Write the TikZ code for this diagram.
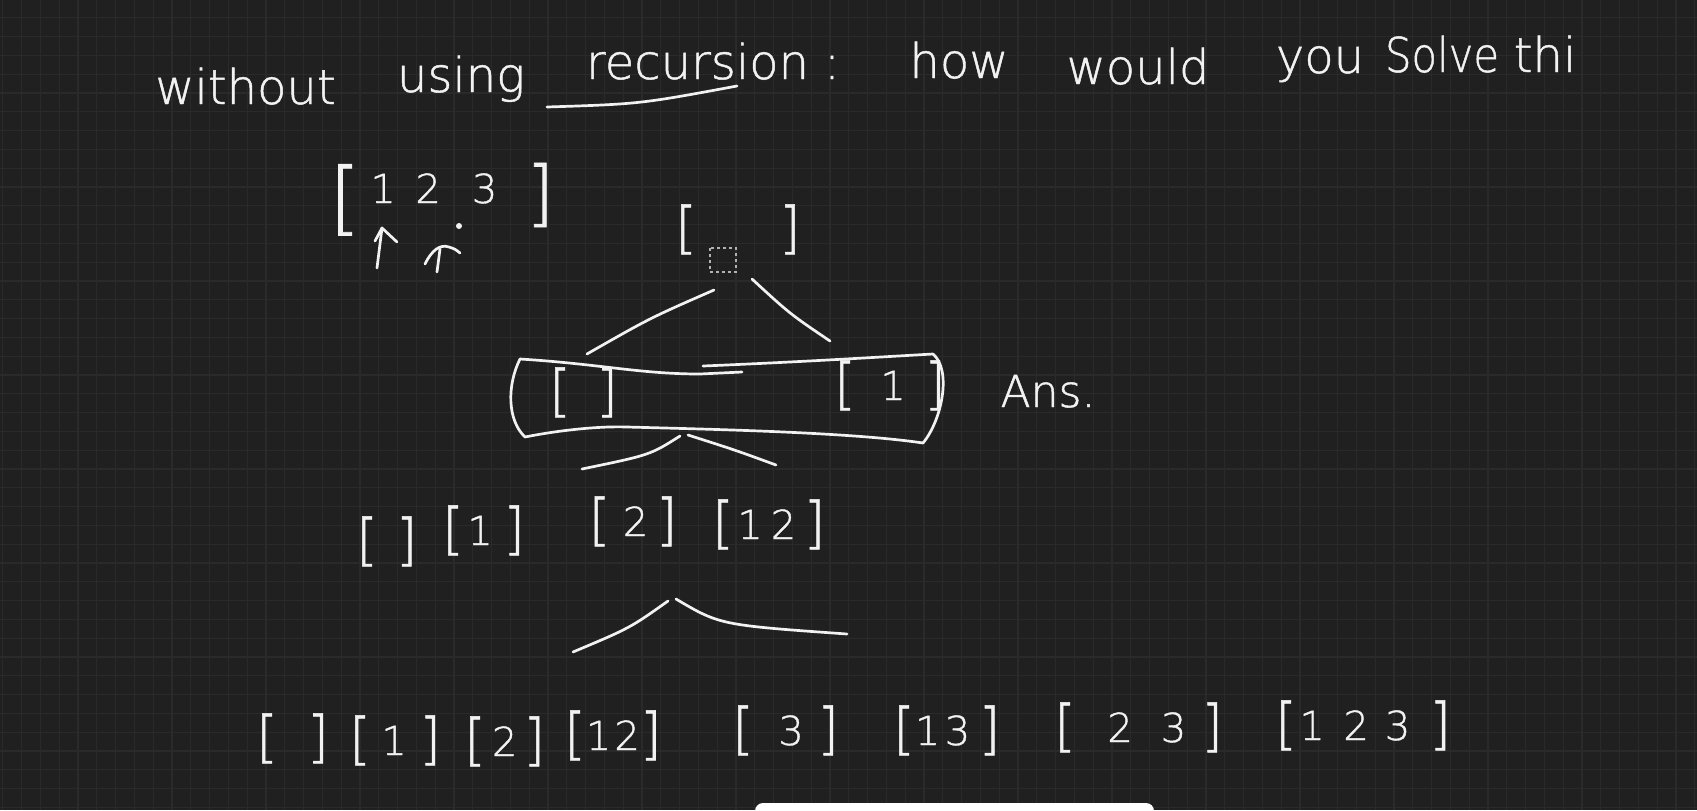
\documentclass[tikz,border=0pt]{standalone}
\usepackage{fontspec}
\usepackage{graphicx}
\IfFontExistsTF{DejaVu Sans ExtraLight}{\newfontfamily\hand[FakeBold=1]{DejaVu Sans ExtraLight}}{\IfFontExistsTF{Lato Light}{\newfontfamily\hand{Lato Light}}{\newfontfamily\hand{DejaVu Sans}}}
\definecolor{bg}{HTML}{202020}
\definecolor{gridc}{HTML}{2A2A2A}
\definecolor{ink}{HTML}{F2F2F2}
\newcommand\Lb{\raisebox{-.075em}{\scalebox{1.4}{[}}}
\newcommand\Rb{\raisebox{-.075em}{\scalebox{1.4}{]}}}
\newcommand\LB{\raisebox{-.55em}{\scalebox{2}{[}}}
\newcommand\RB{\raisebox{-.365em}{\scalebox{1.8}{]}}}
\newcommand\hs[1]{\hspace{#1pt}}
\tikzset{
  pen/.style={draw=ink, line width=1.35pt, line cap=round, line join=round},
  hw/.style={text=ink, inner sep=0pt, outer sep=0pt},
  title/.style={hw, font=\hand\fontsize{24pt}{28pt}\selectfont, anchor=base},
  grp/.style={hw, font=\hand\fontsize{20pt}{24pt}\selectfont, anchor=base west},
  gridline/.style={draw=gridc, line width=0.6pt},
}
\begin{document}
\begin{tikzpicture}[x=0.5pt, y=-0.5pt]
\useasboundingbox (0,0) rectangle (1697,810);
\fill[bg] (0,0) rectangle (1697,810);
% grid
\foreach \i in {0,...,90} \draw[gridline] ({2.7+18.8*\i},0) -- ({2.7+18.8*\i},810);
\foreach \j in {0,...,42} \draw[gridline] (0,{17.7+18.8*\j}) -- (1697,{17.7+18.8*\j});

% title
\node[title] (w1) at (245.5,104) {without};
\node[title] (w2) at (461,92) {using};
\node[title] (w3) at (697.5,79) {recursion};
\node[title] (w4) at (832,79) {:};
\node[title] (w5) at (959,78) {how};
\node[title] (w6) at (1138,84) {would};
\node[title] (w7) at (1320,73) {you};
\node[title] (w8) at (1442,72) {\scalebox{0.87}[1]{Solve}};
\node[title] (w9) at (1545,72) {thi};
\coordinate (ul1) at (547,107);
\coordinate (ul2) at (737,86);
\draw[pen] (ul1) .. controls (640,104) .. (ul2);

% input array and pointers
\node[grp] (arr) at (329.4,203) {\LB\hs{4.9}1\hs{9.8}2\hs{15.5}3\hs{14.4}\RB};
\coordinate (p1a) at (377,268); \coordinate (p1b) at (382,228);
\draw[pen] (p1a) -- (p1b);
\draw[pen] (375,241) -- (p1b) -- (397,242);
\coordinate (p2a) at (437,272); \coordinate (p2b) at (440,249);
\draw[pen] (p2a) -- (p2b);
\draw[pen] (425,264) .. controls (432,250) and (440,244) .. (449,247) .. controls (455,249) .. (460,253);
\fill[ink] (459,226) circle (1.5pt);

% root
\node[grp] (root) at (675.1,244) {\Lb\hs{41}\Rb};
\draw[gray!60, line width=0.6pt, dash pattern=on 1.5pt off 1.5pt] (710,248) rectangle (736,272);

% root branches
\coordinate (r1) at (714,290); \coordinate (r1e) at (587,354);
\coordinate (r2) at (752,279); \coordinate (r2e) at (830,341);
\draw[pen] (r1) .. controls (650,318) .. (r1e);
\draw[pen] (r2) .. controls (790,314) .. (r2e);

% level 1 box
\node[grp] (b1) at (549.1,407) {\Lb\hs{12.6}\Rb};
\node[grp] (b2) at (834.1,400) {\Lb\hs{12.2}1\hs{9.2}\Rb};
\coordinate (bx1) at (520,359);
\coordinate (bx2) at (525,437);
\coordinate (bx3) at (923,443);
\coordinate (bx4) at (933,354);
\draw[pen] (bx1) .. controls (507,385) and (507,420) .. (bx2)
  .. controls (560,430) and (600,426) .. (627,427)
  .. controls (700,429) and (850,432) .. (bx3)
  .. controls (942,420) and (952,370) .. (bx4);
\draw[pen] (bx1) .. controls (600,364) and (640,374) .. (700,374) -- (742,372);
\draw[pen] (703,366) .. controls (800,362) and (880,357) .. (bx4);
\node[hw, font=\hand\fontsize{22pt}{26pt}\selectfont, anchor=base] (ans) at (1048,407) {Ans.};

% level 1 branches
\coordinate (l1) at (680,436); \coordinate (l1e) at (582,469);
\coordinate (l2) at (688,435); \coordinate (l2e) at (776,465);
\draw[pen] (l1) .. controls (650,455) .. (l1e);
\draw[pen] (l2) .. controls (735,450) .. (l2e);

% level 2
\node[grp] (m1) at (356.1,556) {\Lb\hs{8.9}\Rb};
\node[grp] (m2) at (442.1,545) {\Lb\hs{1.7}1\hs{5.2}\Rb};
\node[grp] (m3) at (588.6,536) {\Lb\hs{6.2}2\hs{3.7}\Rb};
\node[grp] (m4) at (712.1,539) {\Lb\hs{1.7}1\hs{4}2\hs{3.7}\Rb};

% level 2 branches
\coordinate (k1) at (573,652); \coordinate (k2) at (668,601);
\coordinate (k3) at (676,599); \coordinate (k4) at (847,634);
\draw[pen] (k1) .. controls (630,628) .. (k2);
\draw[pen] (k3) .. controls (720,625) .. (k4);

% level 3
\node[grp] (g1) at (256.1,753) {\Lb\hs{14.6}\Rb};
\node[grp] (g2) at (349.1,755) {\Lb\hs{5.2}1\hs{6.2}\Rb};
\node[grp] (g3) at (464.1,756) {\Lb\hs{3}2\hs{3}\Rb};
\node[grp] (g4) at (564.1,750) {\Lb\hs{0}1\hs{1.5}2\hs{0}\Rb};
\node[grp] (g5) at (732.1,745) {\Lb\hs{12.2}3\hs{6.7}\Rb};
\node[grp] (g6) at (893.1,745) {\Lb\hs{0}1\hs{2.2}3\hs{4.2}\Rb};
\node[grp] (g7) at (1054.1,742) {\Lb\hs{15.7}2\hs{14}3\hs{7.5}\Rb};
\node[grp] (g8) at (1275.1,740) {\Lb\hs{1.2}1\hs{9.3}2\hs{8}3\hs{9.5}\Rb};

% bottom bar
\begin{scope}
\clip (0,0) rectangle (1697,810);
\fill[white, rounded corners=4pt] (755,803) rectangle (1154,830);
\end{scope}
\end{tikzpicture}
\end{document}
